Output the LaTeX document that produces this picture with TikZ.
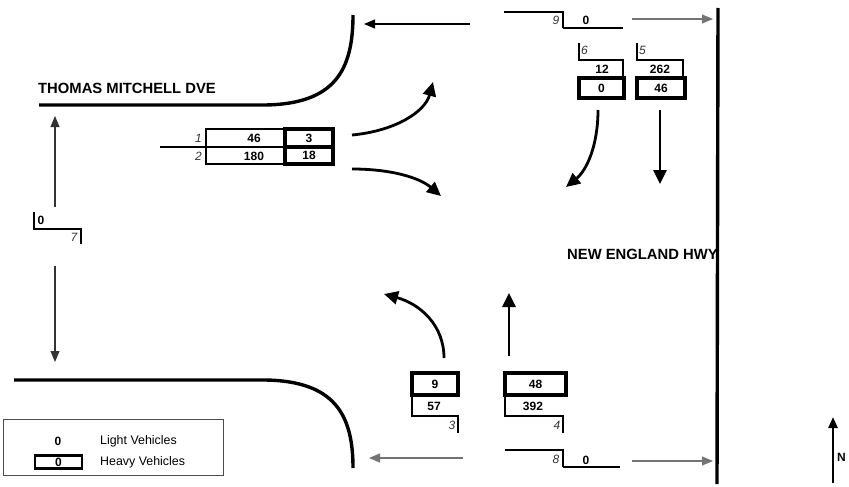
\documentclass[tikz,border=0pt]{standalone}
\usepackage{fontspec}
\setmainfont{Liberation Sans}
\usetikzlibrary{arrows.meta}
\begin{document}
\begin{tikzpicture}[x=1pt,y=-1pt,
  num/.style={font=\fontsize{12}{14}\selectfont\bfseries, inner sep=0pt},
  lab/.style={font=\fontsize{12}{14}\selectfont\itshape, inner sep=0pt, text=black!80},
  txt/.style={font=\fontsize{12.4}{14}\selectfont, inner sep=0pt, anchor=west},
  road/.style={line width=3.4pt},
  thinline/.style={line width=1.3pt},
  hvbox/.style={draw, line width=3.3pt, font=\fontsize{12}{14}\selectfont\bfseries, inner sep=0pt},
  flow/.style={line width=2.8pt, -{Triangle[length=14pt,width=13pt]}},
  mov/.style={line width=1.1pt, -{Triangle[length=11pt,width=9pt]}},
  rname/.style={font=\fontsize{14.8}{16}\selectfont\bfseries, inner sep=0pt, anchor=west}]
\useasboundingbox (0,0) rectangle (849,487);

% roads
\draw[road] (39,105) -- (265,105) .. controls (335,104) and (353,70) .. (353,15);
\draw[road] (14,380) -- (265,380) .. controls (335,381) and (353,415) .. (353,468);
\draw[road] (718,8) -- (717,484);
\node[rname] (tmd) at (38,88) {THOMAS MITCHELL DVE};
\node[rname] (neh) at (567,254) {NEW ENGLAND HWY};

% thin movement arrows
\coordinate (a1s) at (470,24); \coordinate (a1e) at (364,24);
\coordinate (a2s) at (632,19); \coordinate (a2e) at (713,19);
\coordinate (a3s) at (463,458); \coordinate (a3e) at (369,458);
\coordinate (a4s) at (632,461); \coordinate (a4e) at (713,461);
\coordinate (a5s) at (55,207); \coordinate (a5e) at (55,116);
\coordinate (a6s) at (55,266); \coordinate (a6e) at (55,362);
\draw[mov] (a1s) -- (a1e);
\draw[mov, draw=black!55] (a2s) -- (a2e);
\draw[mov, draw=black!55] (a3s) -- (a3e);
\draw[mov, draw=black!55] (a4s) -- (a4e);
\draw[mov, draw=black!80] (a5s) -- (a5e);
\draw[mov, draw=black!80] (a6s) -- (a6e);

% thick turning arrows
\coordinate (f1s) at (352,135); \coordinate (f1e) at (433,82);
\coordinate (f2s) at (352,169); \coordinate (f2e) at (441,196);
\coordinate (f3s) at (598,110); \coordinate (f3e) at (566,187);
\coordinate (f4s) at (660,110); \coordinate (f4e) at (660,184);
\coordinate (f5s) at (444,358); \coordinate (f5e) at (384,294);
\coordinate (f6s) at (509,356); \coordinate (f6e) at (509,293);
\draw[flow] (f1s) .. controls (395,131) and (425,112) .. (f1e);
\draw[flow] (f2s) .. controls (392,169) and (420,178) .. (f2e);
\draw[flow] (f3s) .. controls (598,145) and (587,170) .. (f3e);
\draw[flow] (f4s) -- (f4e);
\draw[flow] (f5s) .. controls (444,325) and (420,304) .. (f5e);
\draw[flow] (f6s) -- (f6e);

% approach 1/2 (west)
\draw[line width=1.8pt] (160,147) -- (206,147);
\draw[thinline] (206,129) rectangle (285,164);
\draw[thinline] (206,147) -- (285,147);
\node[hvbox, minimum width=48pt, minimum height=18pt] (h1) at (309,138) {3};
\node[hvbox, minimum width=48pt, minimum height=17pt] (h2) at (309,155.5) {18};
\node[num] (v1) at (254,138) {46};
\node[num] (v2) at (254,156) {180};
\node[lab, anchor=east] (l1) at (202,138) {1};
\node[lab, anchor=east] (l2) at (202,156) {2};

% approach 9 (top)
\draw[line width=1.8pt] (504,12) -- (563,12) -- (563,28);
\draw[thinline] (563,28) -- (623,28);
\node[lab] (l9) at (556,20) {9};
\node[num] (v9) at (586,20) {0};

% approach 6 / 5 (north)
\draw[thinline] (579,43) -- (579,60) -- (623,60) -- (623,78);
\node[lab, anchor=west] (l6) at (581,50) {6};
\node[num] (v6) at (602,69) {12};
\node[hvbox, minimum width=45pt, minimum height=20pt] (h6) at (601.5,88) {0};
\draw[thinline] (637,43) -- (637,60) -- (683,60) -- (683,78);
\node[lab, anchor=west] (l5) at (639,50) {5};
\node[num] (v5) at (660,69) {262};
\node[hvbox, minimum width=48pt, minimum height=20pt] (h5) at (661,88) {46};

% approach 7 (west outer)
\draw[line width=1.6pt] (34,212) -- (34,229) -- (81,229) -- (81,244);
\node[num] (v7) at (41,220) {0};
\node[lab] (l7) at (74,237) {7};

% approach 3 / 4 (south)
\node[hvbox, minimum width=46pt, minimum height=22pt] (h3) at (435,384) {9};
\draw[thinline] (412,395) -- (412,416) -- (458,416) -- (458,433);
\node[num] (v3) at (434,406) {57};
\node[lab] (l3) at (452,425) {3};
\node[hvbox, minimum width=61pt, minimum height=22pt] (h4) at (535.5,384) {48};
\draw[thinline] (505,395) -- (505,416) -- (563,416) -- (563,433);
\node[num] (v4) at (533,406) {392};
\node[lab] (l4) at (557,425) {4};

% approach 8 (bottom)
\draw[line width=1.8pt] (505,450) -- (563,450) -- (563,467);
\draw[thinline] (563,467) -- (620,467);
\node[lab] (l8) at (556,459) {8};
\node[num] (v8) at (586,460) {0};

% legend
\draw[line width=0.8pt, draw=black!70] (3,419) rectangle (223,475);
\node[num] (lgv) at (58,441) {0};
\node[hvbox, line width=2.4pt, minimum width=47pt, minimum height=13pt] (lgh) at (58.5,462) {0};
\node[txt] (lgl) at (100,441) {Light Vehicles};
\node[txt] (lgt) at (100,462) {Heavy Vehicles};

% north
\coordinate (ns) at (833,483); \coordinate (ne) at (833,417);
\draw[line width=2.4pt, -{Triangle[length=11pt,width=9pt]}] (ns) -- (ne);
\node[font=\fontsize{12}{14}\selectfont\bfseries, inner sep=0pt, anchor=west] (nn) at (837,457) {N};
\end{tikzpicture}
\end{document}
